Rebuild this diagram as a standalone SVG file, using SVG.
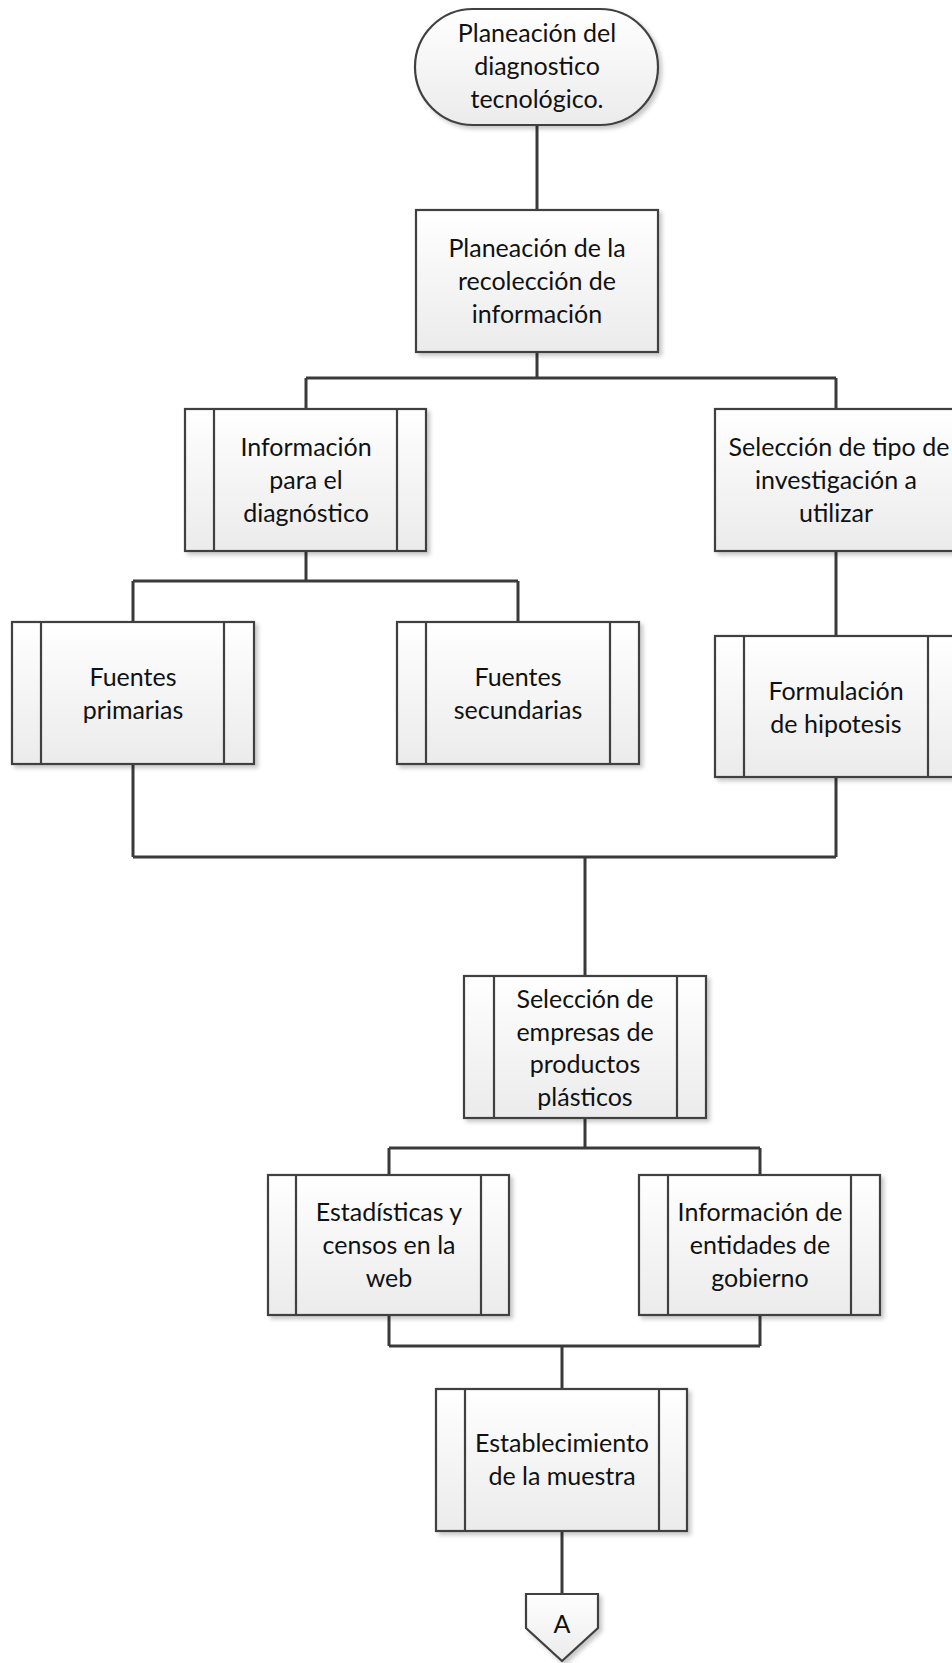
<svg xmlns="http://www.w3.org/2000/svg" width="952" height="1663" viewBox="0 0 952 1663">
  <defs>
    <linearGradient id="boxFill" x1="0" y1="0" x2="0" y2="1">
      <stop offset="0" stop-color="#ffffff"/>
      <stop offset="1" stop-color="#ebebeb"/>
    </linearGradient>
    <filter id="shadow" x="-10%" y="-10%" width="125%" height="125%">
      <feDropShadow dx="3" dy="3" stdDeviation="2" flood-color="#000" flood-opacity="0.22"/>
    </filter>
    <style>
      .shape { fill: url(#boxFill); stroke: #404040; stroke-width: 2.2; filter: url(#shadow); }
      .bar { fill: none; stroke: #404040; stroke-width: 2.2; }
      .wire { fill: none; stroke: #3a3a3a; stroke-width: 3; }
      .label { font-family: Lato, "Open Sans", sans-serif; font-size: 25px; fill: #111; text-anchor: middle; }
    </style>
  </defs>

  <rect width="952" height="1663" fill="#ffffff"/>

  <!-- connectors -->
  <g id="connectors">
    <path class="wire" d="M537,124 V210"/>
    <path class="wire" d="M537,352 V378 M306,378 H836 M306,378 V409 M836,378 V409"/>
    <path class="wire" d="M306,551 V581 M133,581 H518 M133,581 V622 M518,581 V622"/>
    <path class="wire" d="M836,551 V636"/>
    <path class="wire" d="M133,764 V857 M836,777 V857 M133,857 H836 M585,857 V976"/>
    <path class="wire" d="M585,1118 V1148 M389,1148 H760 M389,1148 V1175 M760,1148 V1175"/>
    <path class="wire" d="M389,1315 V1346 M760,1315 V1346 M389,1346 H760 M562,1346 V1389"/>
    <path class="wire" d="M562,1531 V1594"/>
  </g>

  <!-- start terminator -->
  <g id="n-start">
    <rect class="shape" x="415" y="9" width="243" height="116" rx="58" ry="58"/>
    <text class="label"><tspan x="537" y="42">Planeación del</tspan><tspan x="537" y="75">diagnostico</tspan><tspan x="537" y="108">tecnológico.</tspan></text>
  </g>

  <!-- plain process -->
  <g id="n-planeacion">
    <rect class="shape" x="416" y="210" width="242" height="142"/>
    <text class="label"><tspan x="537" y="257">Planeación de la</tspan><tspan x="537" y="290">recolección de</tspan><tspan x="537" y="323">información</tspan></text>
  </g>

  <!-- predefined process boxes -->
  <g id="n-info-diag">
    <rect class="shape" x="185" y="409" width="241" height="142"/>
    <path class="bar" d="M214,409 V551 M397,409 V551"/>
    <text class="label"><tspan x="306" y="456">Información</tspan><tspan x="306" y="489">para el</tspan><tspan x="306" y="522">diagnóstico</tspan></text>
  </g>

  <g id="n-tipo-inv">
    <rect class="shape" x="715" y="409" width="242" height="142"/>
    <text class="label"><tspan x="839" y="456">Selección de tipo de</tspan><tspan x="836" y="489">investigación a</tspan><tspan x="836" y="522">utilizar</tspan></text>
  </g>

  <g id="n-primarias">
    <rect class="shape" x="12" y="622" width="242" height="142"/>
    <path class="bar" d="M41,622 V764 M224,622 V764"/>
    <text class="label"><tspan x="133" y="686">Fuentes</tspan><tspan x="133" y="719">primarias</tspan></text>
  </g>

  <g id="n-secundarias">
    <rect class="shape" x="397" y="622" width="242" height="142"/>
    <path class="bar" d="M426,622 V764 M610,622 V764"/>
    <text class="label"><tspan x="518" y="686">Fuentes</tspan><tspan x="518" y="719">secundarias</tspan></text>
  </g>

  <g id="n-hipotesis">
    <rect class="shape" x="715" y="636" width="242" height="141"/>
    <path class="bar" d="M744,636 V777 M928,636 V777"/>
    <text class="label"><tspan x="836" y="700">Formulación</tspan><tspan x="836" y="733">de hipotesis</tspan></text>
  </g>

  <g id="n-empresas">
    <rect class="shape" x="464" y="976" width="242" height="142"/>
    <path class="bar" d="M494,976 V1118 M677,976 V1118"/>
    <text class="label"><tspan x="585" y="1008">Selección de</tspan><tspan x="585" y="1040.5">empresas de</tspan><tspan x="585" y="1073">productos</tspan><tspan x="585" y="1105.5">plásticos</tspan></text>
  </g>

  <g id="n-estadisticas">
    <rect class="shape" x="268" y="1175" width="241" height="140"/>
    <path class="bar" d="M296,1175 V1315 M481,1175 V1315"/>
    <text class="label"><tspan x="389" y="1221">Estadísticas y</tspan><tspan x="389" y="1254">censos en la</tspan><tspan x="389" y="1287">web</tspan></text>
  </g>

  <g id="n-gobierno">
    <rect class="shape" x="639" y="1175" width="241" height="140"/>
    <path class="bar" d="M668,1175 V1315 M851,1175 V1315"/>
    <text class="label"><tspan x="760" y="1221">Información de</tspan><tspan x="760" y="1254">entidades de</tspan><tspan x="760" y="1287">gobierno</tspan></text>
  </g>

  <g id="n-muestra">
    <rect class="shape" x="436" y="1389" width="251" height="142"/>
    <path class="bar" d="M465,1389 V1531 M659,1389 V1531"/>
    <text class="label"><tspan x="562" y="1452">Establecimiento</tspan><tspan x="562" y="1485">de la muestra</tspan></text>
  </g>

  <!-- off-page reference -->
  <g id="n-offpage">
    <path class="shape" d="M526,1594 H598 V1628 L562,1661 L526,1628 Z"/>
    <text class="label" x="562" y="1633">A</text>
  </g>
</svg>
